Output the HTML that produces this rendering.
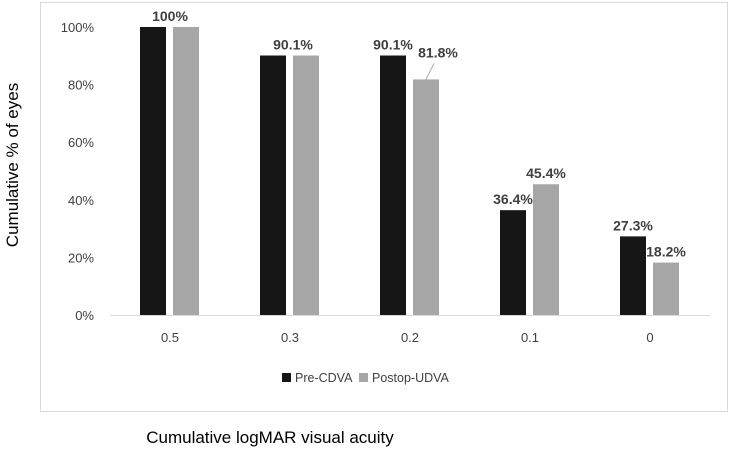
<!DOCTYPE html>
<html><head><meta charset="utf-8"><style>
body{margin:0;background:#fff;width:735px;height:449px;overflow:hidden;font-family:"Liberation Sans",sans-serif}
</style></head><body>
<svg width="735" height="449">
<rect x="40.5" y="2.5" width="687" height="409" fill="#fff" stroke="#d9d9d9"/>
<text x="18" y="165" transform="rotate(-90 18 165)" text-anchor="middle" font-size="17" fill="#000">Cumulative % of eyes</text>
<text x="270" y="443" text-anchor="middle" font-size="17" fill="#000">Cumulative logMAR visual acuity</text>
<g id="plot"></g>
<g>
<rect x="282" y="373" width="9" height="9" fill="#161616"/>
<text x="295" y="382" font-size="12.5" fill="#404040">Pre-CDVA</text>
<rect x="359" y="373" width="9" height="9" fill="#a6a6a6"/>
<text x="372" y="382" font-size="12.5" fill="#404040">Postop-UDVA</text>
</g>
</svg>
<script>
const categories=["0.5","0.3","0.2","0.1","0"];
const preValues=[100,90.1,90.1,36.4,27.3];
const postValues=[100,90.1,81.8,45.4,18.2];
const preLabels=["100%","","90.1%","36.4%","27.3%"];
const postLabels=["","90.1%","81.8%","45.4%","18.2%"];
const yTicks=[0,20,40,60,80,100];
const NS="http://www.w3.org/2000/svg";
const g=document.getElementById('plot');
const y=v=>315-v*2.88;
const xc=i=>170+i*120;
function mk(t,a,txt){const e=document.createElementNS(NS,t);for(const k in a)e.setAttribute(k,a[k]);if(txt!==undefined)e.textContent=txt;g.appendChild(e);return e;}
yTicks.forEach(t=>{const e=mk('text',{x:94,y:y(t)+5,'text-anchor':'end','font-size':13,fill:'#404040'},t+'%');

});
const ax=mk('line',{x1:110,x2:710,y1:315.5,y2:315.5,stroke:'#d9d9d9'});


categories.forEach((c,i)=>{
const cx=xc(i);
const t=mk('text',{x:cx,y:342,'text-anchor':'middle','font-size':13,fill:'#404040'},c);


const b1=mk('rect',{x:cx-30,y:y(preValues[i]),width:26,height:315-y(preValues[i]),fill:'#161616'});


const b2=mk('rect',{x:cx+3,y:y(postValues[i]),width:26,height:315-y(postValues[i]),fill:'#a6a6a6'});


if(preLabels[i]){
const l1=mk('text',{x:i==0?cx:cx-17,y:y(preValues[i])-6,'text-anchor':'middle','font-size':14,'font-weight':'bold',fill:'#404040'},preLabels[i]);

}
if(postLabels[i]){
let px=i==1?cx+3:cx+16,py=y(postValues[i])-6;
if(i==2){px=cx+28;py=y(postValues[i])-22;
const ln=mk('line',{x1:cx+24,y1:py+6,x2:cx+16,y2:y(postValues[i]),stroke:'#a6a6a6'});

}
const l2=mk('text',{x:px,y:py,'text-anchor':'middle','font-size':14,'font-weight':'bold',fill:'#404040'},postLabels[i]);

}
});
</script>
</body></html>
